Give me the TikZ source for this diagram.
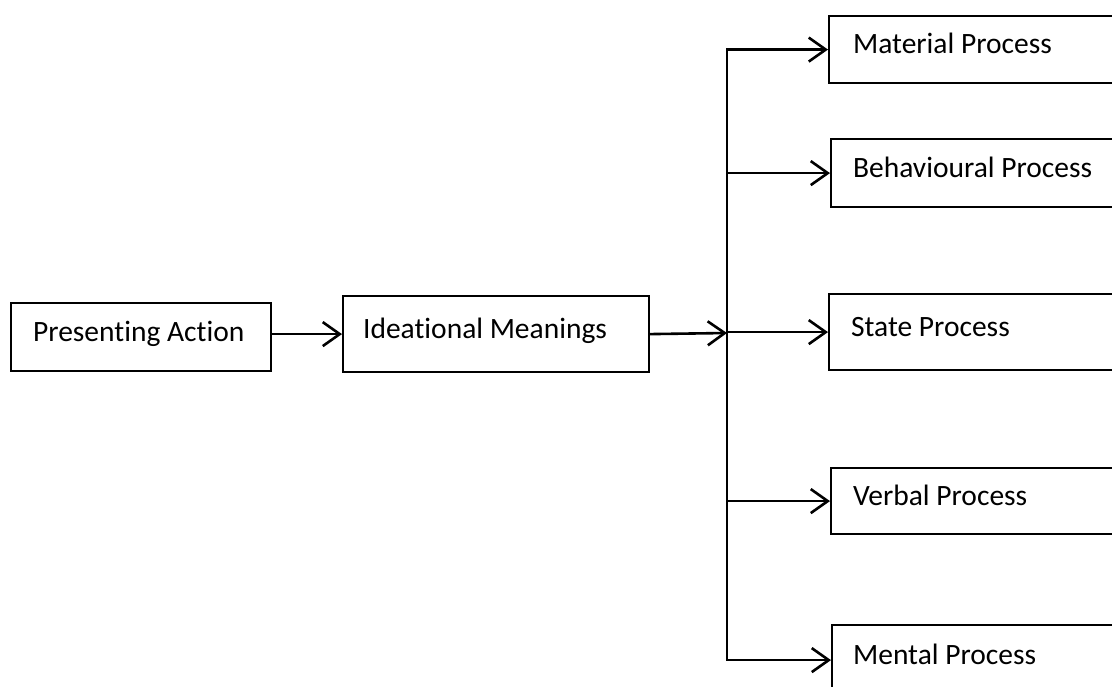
\documentclass[tikz,border=0pt]{standalone}
\usepackage{fontspec}
\setmainfont[Ligatures={NoCommon}]{Carlito}
\usetikzlibrary{arrows.meta}
\newcommand{\boxtext}[2]{\makebox[#1][l]{#2}}
\begin{document}
\begin{tikzpicture}[x=1pt,y=-1pt,
  box/.style={draw, line width=2.2pt, anchor=north west,
    inner ysep=0pt, text height=20pt, text depth=12pt,
    font=\fontsize{29.5}{34}\selectfont},
  arr/.style={line width=2.6pt, line join=miter,
    -{Straight Barb[length=17pt,width=24pt,line width=2.6pt]}}]
\clip (0,0) rectangle (1112,687);
\fill[white] (0,0) rectangle (1112,687);

% source boxes
\node[box, minimum width=260pt, minimum height=68pt]
  (pa) at (10,302) {\boxtext{216pt}{Presenting Action}};
\node[box, minimum width=306pt, minimum height=76pt]
  (im) at (342,295) {\boxtext{266pt}{Ideational Meanings}};

% process types
\node[box, minimum width=300pt, minimum height=67pt]
  (mat) at (828,15) {\boxtext{252pt}{Material Process}};
\node[box, minimum width=300pt, minimum height=68pt]
  (beh) at (830,138) {\boxtext{256pt}{Behavioural Process}};
\node[box, minimum width=300pt, minimum height=76pt]
  (sta) at (828,293) {\boxtext{256pt}{State Process}};
\node[box, minimum width=300pt, minimum height=66pt]
  (ver) at (830,467) {\boxtext{256pt}{Verbal Process}};
\node[box, minimum width=300pt, minimum height=70pt]
  (men) at (831,624) {\boxtext{258pt}{Mental Process}};

% branching point on the trunk
\coordinate (j) at (727,333);

\draw[arr] (pa.east |- im.west) -- (im.west);
\draw[arr] (im.east) -- (j);

\draw[arr] (j) -- (j |- mat.west) -- (mat.west);
\draw[arr] (j) -- (j |- men.west) -- (men.west);
\draw[arr] (j |- beh.west) -- (beh.west);
\draw[arr] (j |- sta.west) -- (sta.west);
\draw[arr] (j |- ver.west) -- (ver.west);
\end{tikzpicture}
\end{document}
